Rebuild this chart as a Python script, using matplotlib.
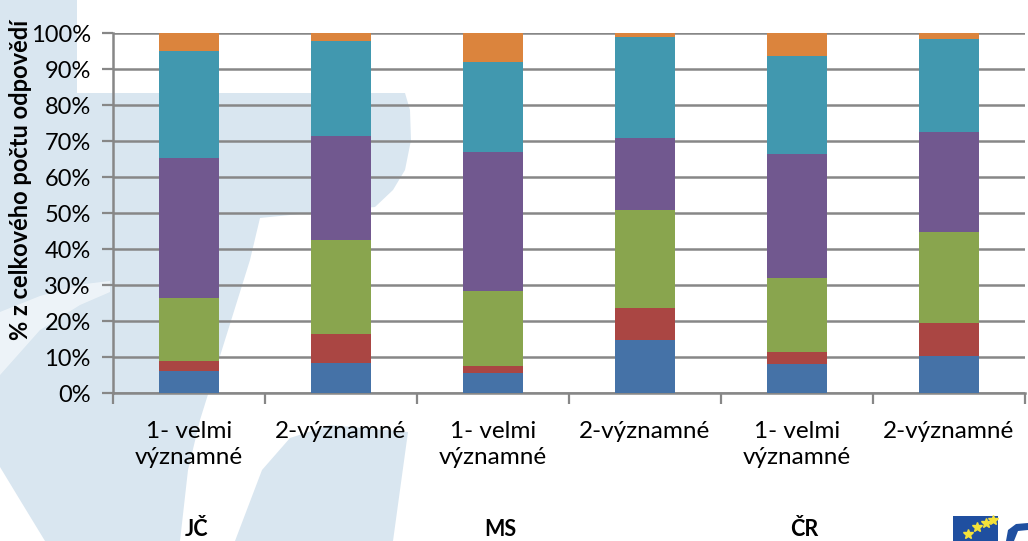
import matplotlib
matplotlib.use("Agg")
import matplotlib.pyplot as plt
from matplotlib.patches import Polygon, Rectangle
import numpy as np

plt.rcParams['font.family'] = ['Lato', 'DejaVu Sans']

# ---- data ----
categories = ["1- velmi\nvýznamné", "2-významné",
              "1- velmi\nvýznamné", "2-významné",
              "1- velmi\nvýznamné", "2-významné"]
groups = ["JČ", "MS", "ČR"]
s1 = [6.2, 8.4, 5.6, 14.7, 8.0, 10.2]
s2 = [2.6, 7.9, 1.8, 8.8, 3.4, 9.2]
s3 = [17.5, 26.1, 20.9, 27.2, 20.5, 25.3]
s4 = [38.9, 29.1, 38.6, 20.1, 34.6, 27.9]
s5 = [29.7, 26.4, 25.0, 28.1, 27.1, 25.7]
s6 = [5.1, 2.1, 8.1, 1.1, 6.4, 1.7]
colors = ["#4572A7", "#AA4643", "#89A54E", "#71588F", "#4198AF", "#DB843D"]
yticks = [0, 10, 20, 30, 40, 50, 60, 70, 80, 90, 100]

W, H = 1028, 541
fig = plt.figure(figsize=(W / 100, H / 100), dpi=100)
fig.patch.set_facecolor("white")

# ---- background watermark (light blue swoosh) ----
wm = "#d9e6f0"
def px(pts):
    return [(x / W, 1 - y / H) for x, y in pts]

shapeA = [(0, 0), (77, 0), (77, 93), (405, 93), (410, 110), (411, 140),
          (405, 170), (393, 190), (375, 207), (310, 213), (260, 218),
          (250, 260), (225, 340), (200, 420), (188, 470), (180, 541),
          (45, 541), (20, 500), (0, 467)]
shapeB = [(235, 541), (262, 470), (290, 438), (330, 425), (408, 432),
          (400, 490), (393, 541)]
for shp in (shapeA, shapeB):
    fig.add_artist(Polygon(px(shp), closed=True, transform=fig.transFigure,
                           facecolor=wm, edgecolor="none", zorder=0))
# faint white arc inside the swoosh on the left
arc = [(0, 312), (40, 296), (85, 284), (110, 281), (110, 292), (80, 305),
       (40, 330), (0, 375)]
fig.add_artist(Polygon(px(arc), closed=True, transform=fig.transFigure,
                       facecolor="white", alpha=0.55, edgecolor="none", zorder=0.5))

# ---- axes ----
ax = fig.add_axes([113 / W, 1 - 393 / H, (1025 - 113) / W, 360 / H])
ax.set_facecolor("none")
ax.set_zorder(1)

x = np.arange(len(categories))
series = [s1, s2, s3, s4, s5, s6]
bottom = np.zeros(len(categories))
for vals, c in zip(series, colors):
    ax.bar(x, vals, width=0.395, bottom=bottom, color=c, zorder=3,
           edgecolor="none")
    bottom += np.array(vals)

ax.set_xlim(-0.5, len(categories) - 0.5)
ax.set_ylim(0, 100)
ax.set_yticks(yticks)
ax.set_yticklabels([f"{v}%" for v in yticks], fontsize=17)
ax.yaxis.grid(True, color="#878787", linewidth=1.8, zorder=1)
ax.set_axisbelow(True)

ax.set_xticks(x)
ax.set_xticklabels(categories, fontsize=17.5, linespacing=1.3)
ax.tick_params(axis="x", length=0, pad=20)
ax.set_xticks(np.arange(-0.5, len(categories)), minor=True)
ax.tick_params(axis="x", which="minor", length=8, width=1.6, color="#878787", direction="out")
ax.tick_params(axis="y", length=8, width=1.6, color="#878787", direction="out", pad=8)

for side in ("top", "right"):
    ax.spines[side].set_visible(False)
for side in ("left", "bottom"):
    ax.spines[side].set_color("#878787")
    ax.spines[side].set_linewidth(1.8)

ax.set_ylabel("% z celkového počtu odpovědí", fontsize=17, fontweight="bold")
ax.yaxis.set_label_coords(-0.089, 0.592)

# group labels
for gi, g in enumerate(groups):
    ax.text(2 * gi + 0.05, -0.378, g, transform=ax.get_xaxis_transform(),
            ha="center", va="center", fontsize=15.5, fontweight="bold")

# ---- small EU logo in the corner ----
fig.add_artist(Rectangle((953 / W, 0), 45 / W, 25 / H, transform=fig.transFigure,
                         facecolor="#1f4fa0", edgecolor="none", zorder=2))
fig.add_artist(plt.Line2D([968 / W, 977 / W, 986 / W, 993 / W],
                          [1 - 534 / H, 1 - 527 / H, 1 - 523 / H, 1 - 520 / H],
                          transform=fig.transFigure, linestyle="none",
                          marker="*", markersize=7, color="#f5e23a", zorder=3))
fig.add_artist(Polygon(px([(1006, 541), (1008, 530), (1016, 524), (1028, 523),
                           (1028, 530), (1018, 531), (1014, 541)]),
                       closed=True, transform=fig.transFigure,
                       facecolor="#1f4fa0", edgecolor="none", zorder=2))

fig.savefig("out.png", dpi=100)
